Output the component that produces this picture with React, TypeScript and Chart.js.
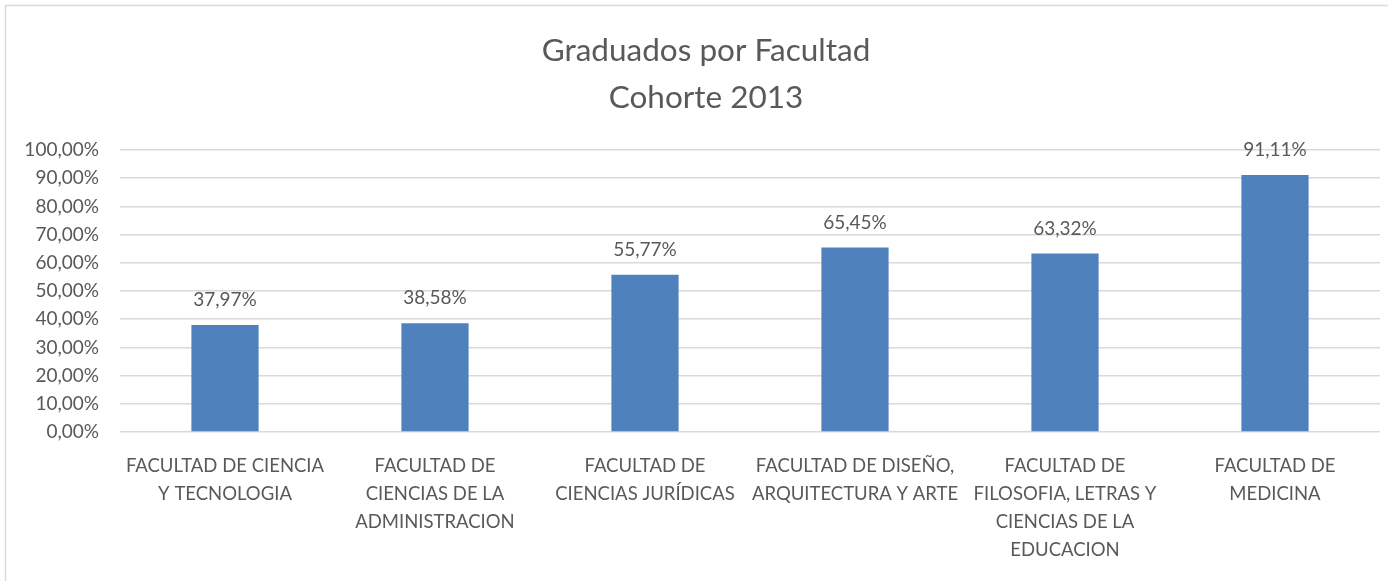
import React, { useEffect, useRef } from "react";
import { Chart, registerables } from "chart.js";

Chart.register(...registerables);

const categories: string[][] = [
  ["FACULTAD DE CIENCIA", "Y TECNOLOGIA"],
  ["FACULTAD DE", "CIENCIAS DE LA", "ADMINISTRACION"],
  ["FACULTAD DE", "CIENCIAS JURÍDICAS"],
  ["FACULTAD DE DISEÑO,", "ARQUITECTURA Y ARTE"],
  ["FACULTAD DE", "FILOSOFIA, LETRAS Y", "CIENCIAS DE LA", "EDUCACION"],
  ["FACULTAD DE", "MEDICINA"],
];
const values: number[] = [37.97, 38.58, 55.77, 65.45, 63.32, 91.11];
const titleLines: string[] = ["Graduados por Facultad", "Cohorte 2013"];

const FONT = "Lato, 'Open Sans', sans-serif";
const TEXT = "#595959";
const GRID = "#d9d9d9";
const BAR = "#4F81BD";

const fmt = (v: number) => v.toFixed(2).replace(".", ",") + "%";

export default function App() {
  const ref = useRef<HTMLCanvasElement | null>(null);
  useEffect(() => {
    document.body.style.margin = "0";
    const canvas = ref.current;
    if (!canvas) return;
    const frame = {
      id: "frame",
      beforeDraw(chart: any) {
        const ctx = chart.ctx;
        ctx.save();
        ctx.fillStyle = "#ffffff";
        ctx.fillRect(0, 0, chart.width, chart.height);
        ctx.strokeStyle = GRID;
        ctx.lineWidth = 1.5;
        ctx.strokeRect(5.5, 5.5, chart.width + 100, chart.height + 100);
        ctx.fillStyle = TEXT;
        ctx.font = `31.5px ${FONT}`;
        ctx.textAlign = "center";
        ctx.textBaseline = "middle";
        titleLines.forEach((t, i) => ctx.fillText(t, 706, 51 + i * 47));
        ctx.restore();
      },
      afterDatasetsDraw(chart: any) {
        const ctx = chart.ctx;
        const meta = chart.getDatasetMeta(0);
        ctx.save();
        ctx.fillStyle = TEXT;
        ctx.font = `19px ${FONT}`;
        ctx.textAlign = "center";
        ctx.textBaseline = "middle";
        meta.data.forEach((el: any, i: number) => {
          ctx.fillText(fmt(values[i]), el.x, el.y - 25);
        });
        ctx.restore();
      },
    };
    const chart = new Chart(canvas, {
      type: "bar",
      data: {
        labels: categories,
        datasets: [
          {
            data: values,
            backgroundColor: BAR,
            categoryPercentage: 1,
            barPercentage: 0.32,
          },
        ],
      },
      options: {
        animation: false,
        responsive: false,
        layout: { padding: { top: 150, left: 0, right: 8, bottom: 0 } },
        plugins: {
          legend: { display: false },
          title: { display: false },
          tooltip: { enabled: false },
        },
        scales: {
          x: {
            grid: { display: false, drawTicks: false },
            border: { display: false },
            ticks: {
              color: TEXT,
              font: { family: FONT, size: 18.5, lineHeight: 28 / 18.5 },
              padding: 20,
              maxRotation: 0,
              autoSkip: false,
            },
            afterFit(scale: any) {
              scale.height = 149;
            },
          },
          y: {
            min: 0,
            max: 100,
            grid: { color: GRID, lineWidth: 1.5, drawTicks: false },
            border: { display: false },
            ticks: {
              stepSize: 10,
              color: TEXT,
              font: { family: FONT, size: 19 },
              padding: 21,
              callback: (v: any) => fmt(Number(v)),
            },
            afterFit(scale: any) {
              scale.width = 120;
            },
          },
        },
      },
      plugins: [frame],
    });
    return () => chart.destroy();
  }, []);
  return (
    <div style={{ width: 1388, height: 581 }}>
      <canvas ref={ref} width={1388} height={581} style={{ display: "block" }} />
    </div>
  );
}
